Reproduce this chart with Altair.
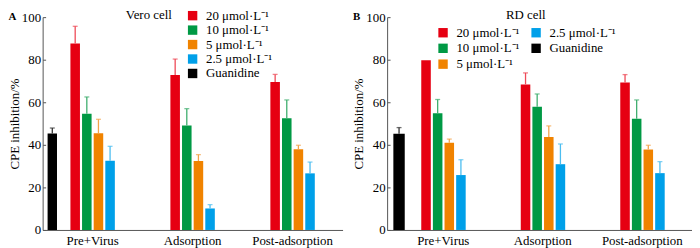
import altair as alt
import pandas as pd

# ---------------- data ----------------
groups = ["Pre+Virus", "Adsorption", "Post-adsorption"]
conc_labels = ["20 μmol·L⁻¹", "10 μmol·L⁻¹", "5 μmol·L⁻¹", "2.5 μmol·L⁻¹"]
guan_label = "Guanidine"

# Vero cell (panel A): mean and upper end of error bar, per group
vero_20 = [87.6, 72.8, 69.5]
vero_20_up = [95.7, 80.3, 73.1]
vero_10 = [54.6, 49.1, 52.5]
vero_10_up = [62.5, 57.0, 61.1]
vero_5 = [45.5, 32.4, 37.9]
vero_5_up = [52.0, 35.4, 39.8]
vero_2_5 = [32.5, 10.1, 26.6]
vero_2_5_up = [39.3, 11.9, 31.9]
vero_guan = [45.3]
vero_guan_up = [47.9]

# RD cell (panel B)
rd_20 = [79.8, 68.4, 69.3]
rd_20_up = [79.8, 73.8, 73.0]
rd_10 = [54.8, 57.9, 52.3]
rd_10_up = [61.3, 63.9, 61.1]
rd_5 = [41.0, 43.7, 37.8]
rd_5_up = [42.7, 48.9, 39.8]
rd_2_5 = [25.8, 30.9, 26.7]
rd_2_5_up = [33.0, 40.4, 32.1]
rd_guan = [45.2]
rd_guan_up = [48.1]

y_ticks = [0, 20, 40, 60, 80, 100]

bar_colors = ["#E60012", "#009944", "#F08300", "#00A0E9", "#000000"]
err_colors = ["#EE4A57", "#3FAE6E", "#F4A24A", "#4CBDF0", "#333333"]
all_agents = conc_labels + [guan_label]

FONT = "Liberation Serif"
AXIS_COLOR = "#555555"


def conc_table(series, uppers):
    rows = []
    for lab, vals, ups in zip(conc_labels, series, uppers):
        for g, v, u in zip(groups, vals, ups):
            rows.append({"group": g, "agent": lab, "value": v, "upper": u})
    return pd.DataFrame(rows)


def guan_table(vals, ups):
    return pd.DataFrame({"agent": [guan_label] * len(vals), "value": vals, "upper": ups})


vero_conc = conc_table([vero_20, vero_10, vero_5, vero_2_5],
                       [vero_20_up, vero_10_up, vero_5_up, vero_2_5_up])
vero_g = guan_table(vero_guan, vero_guan_up)
rd_conc = conc_table([rd_20, rd_10, rd_5, rd_2_5],
                     [rd_20_up, rd_10_up, rd_5_up, rd_2_5_up])
rd_g = guan_table(rd_guan, rd_guan_up)


def panel(conc_df, g_df, letter, legend, width,
          x_po, x_align, off_pi, off_range, g_range):
    color_scale = alt.Scale(domain=all_agents, range=bar_colors)
    err_scale = alt.Scale(domain=all_agents, range=err_colors)
    y_scale = alt.Scale(domain=[0, 100], nice=False, zero=True)

    main_axis = alt.Axis(title="CPE inhibition/%", values=y_ticks, ticks=False, grid=False,
                         domainColor=AXIS_COLOR, labelFontSize=13, titleFontSize=13,
                         labelPadding=2, titlePadding=0, titleFontWeight="normal",
                         labelColor="#000", titleColor="#000")
    tick_axis = alt.Axis(title=None, values=y_ticks, labels=False, domain=False, grid=False,
                         ticks=True, tickSize=3, offset=-3, orient="left",
                         tickColor=AXIS_COLOR, tickWidth=1)

    base = alt.Chart(conc_df).encode(
        x=alt.X("group:N",
                scale=alt.Scale(domain=groups, paddingInner=0, paddingOuter=x_po, align=x_align),
                axis=alt.Axis(title=None, labelAngle=0, ticks=False, domainColor=AXIS_COLOR,
                              labelFontSize=13, labelPadding=5, labelColor="#000")),
        xOffset=alt.XOffset("agent:N",
                            scale=alt.Scale(domain=conc_labels, paddingInner=off_pi,
                                            paddingOuter=off_pi / 2, range=off_range)),
    )
    bars = base.mark_bar().encode(
        y=alt.Y("value:Q", scale=y_scale, axis=main_axis),
        color=alt.Color("agent:N", scale=color_scale, legend=legend),
    )
    errs = base.transform_filter("datum.upper > datum.value")
    rules = errs.mark_rule(strokeWidth=1.3).encode(
        y="value:Q", y2="upper:Q",
        stroke=alt.Stroke("agent:N", scale=err_scale, legend=None),
    )
    caps = errs.mark_tick(size=5, thickness=1.3).encode(
        y="upper:Q",
        fill=alt.Fill("agent:N", scale=err_scale, legend=None),
    )
    conc_layer = alt.layer(bars, rules, caps)

    gbase = alt.Chart(g_df).encode(
        x=alt.X("agent:N",
                scale=alt.Scale(domain=[guan_label], paddingInner=0, paddingOuter=0,
                                range=g_range),
                axis=None),
    )
    gbars = gbase.mark_bar().encode(
        y=alt.Y("value:Q", scale=y_scale, axis=tick_axis),
        color=alt.Color("agent:N", scale=color_scale, legend=legend),
    )
    gerrs = gbase.transform_filter("datum.upper > datum.value")
    grules = gerrs.mark_rule(strokeWidth=1.3).encode(
        y="value:Q", y2="upper:Q",
        stroke=alt.Stroke("agent:N", scale=err_scale, legend=None),
    )
    gcaps = gerrs.mark_tick(size=5, thickness=1.3).encode(
        y="upper:Q",
        fill=alt.Fill("agent:N", scale=err_scale, legend=None),
    )
    g_layer = alt.layer(gbars, grules, gcaps)

    return alt.layer(conc_layer, g_layer).resolve_scale(x="independent").resolve_axis(
        y="independent", x="independent"
    ).properties(
        width=width, height=215,
        title=alt.TitleParams(letter, anchor="start", frame="bounds", fontSize=11,
                              fontWeight="bold", font=FONT, offset=0, baseline="top", dy=13),
    )


legend_common = dict(orient="none", symbolType="square", symbolSize=90, symbolStrokeWidth=0,
                     labelFontSize=13, titleFontSize=13, titleFontWeight="normal",
                     labelOffset=7, labelFont=FONT, titleFont=FONT, labelColor="#000",
                     titleColor="#000", legendY=-8)

legend_a = alt.Legend(title="Vero cell", titleOrient="left", titleAnchor="start",
                      titlePadding=14, rowPadding=0.6, legendX=84, **legend_common)
legend_b = alt.Legend(title="RD cell", titleOrient="top", titleAnchor="middle",
                      titlePadding=4, rowPadding=2, columns=2, columnPadding=10,
                      legendX=50, **legend_common)

panel_a = panel(vero_conc, vero_g, "A", legend_a, 303,
                0, 0.5, 0.18, [27, 74], [5, 14.5])
panel_b = panel(rd_conc, rd_g, "B", legend_b,
                308, 0.032, 1, 0.24, [20, 80.6], [6.3, 17.8])

chart = alt.hconcat(panel_a, panel_b, spacing=10).resolve_scale(
    color="independent", stroke="independent", fill="independent"
).resolve_legend(color="independent").properties(padding=0).configure_view(
    stroke=None
).configure_axis(labelFont=FONT, titleFont=FONT).configure_title(font=FONT)

chart.save("out.html", embed_options={"renderer": "svg", "actions": False})
